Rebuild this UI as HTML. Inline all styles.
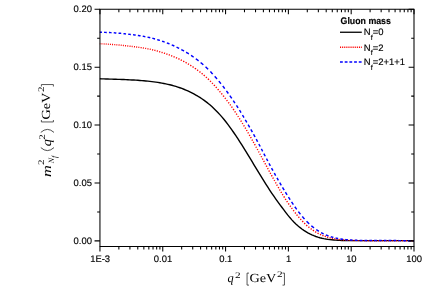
<!DOCTYPE html>
<html><head><meta charset="utf-8"><title>Gluon mass</title>
<style>
html,body{margin:0;padding:0;background:#fff;}
body{width:427px;height:288px;overflow:hidden;}
svg{display:block;will-change:transform;}
text{font-family:"Liberation Sans",sans-serif;fill:#000;}
.tl,.lg{stroke:#000;stroke-width:0.15px;}
.tl{font-size:9.45px;}
text{text-rendering:geometricPrecision;}
.ser{font-family:"Liberation Serif",serif;}
</style></head><body>
<svg width="427" height="288" viewBox="0 0 427 288">
<rect x="0" y="0" width="427" height="288" fill="#fff"/>

<g fill="none" stroke-linejoin="round">
<path d="M99.85,78.77 L101.85,78.84 L103.85,78.90 L105.85,78.97 L107.85,79.03 L109.85,79.09 L111.85,79.15 L113.85,79.21 L115.85,79.28 L117.85,79.34 L119.85,79.41 L121.85,79.49 L123.85,79.56 L125.85,79.65 L127.85,79.73 L129.85,79.83 L131.85,79.93 L133.85,80.04 L135.85,80.16 L137.85,80.29 L139.85,80.43 L141.85,80.59 L143.85,80.76 L145.85,80.94 L147.85,81.14 L149.85,81.35 L151.85,81.59 L153.85,81.84 L155.85,82.12 L157.85,82.42 L159.85,82.74 L161.85,83.09 L163.85,83.47 L165.85,83.87 L167.85,84.31 L169.85,84.79 L171.85,85.29 L173.85,85.84 L175.85,86.43 L177.85,87.06 L179.85,87.74 L181.85,88.46 L183.85,89.23 L185.85,90.06 L187.85,90.94 L189.85,91.89 L191.85,92.89 L193.85,93.96 L195.85,95.07 L197.85,96.23 L199.85,97.46 L201.85,98.76 L203.85,100.15 L205.85,101.61 L207.85,103.17 L209.85,104.81 L211.85,106.58 L213.85,108.45 L215.85,110.41 L217.85,112.47 L219.85,114.62 L221.85,116.87 L223.85,119.29 L225.85,121.80 L227.85,124.40 L229.85,127.10 L231.85,129.89 L233.85,132.76 L235.85,135.71 L237.85,138.70 L239.85,141.76 L241.85,144.89 L243.85,148.08 L245.85,151.32 L247.85,154.60 L249.85,157.92 L251.85,161.21 L253.85,164.52 L255.85,167.83 L257.85,171.15 L259.85,174.45 L261.85,177.73 L263.85,180.95 L265.85,184.12 L267.85,187.24 L269.85,190.31 L271.85,193.29 L273.85,196.20 L275.85,199.05 L277.85,201.84 L279.85,204.58 L281.85,207.25 L283.85,209.91 L285.85,212.58 L287.85,215.14 L289.85,217.58 L291.85,219.86 L293.85,221.99 L295.85,223.96 L297.85,225.77 L299.85,227.42 L301.85,228.95 L303.85,230.34 L305.85,231.59 L307.85,232.79 L309.85,233.88 L311.85,234.86 L313.85,235.72 L315.85,236.49 L317.85,237.17 L319.85,237.78 L321.85,238.25 L323.85,238.67 L325.85,239.02 L327.85,239.32 L329.85,239.58 L331.85,239.79 L333.85,239.97 L335.85,240.13 L337.85,240.26 L339.85,240.37 L341.85,240.45 L343.85,240.52 L345.85,240.57 L347.85,240.61 L349.85,240.64 L351.85,240.65 L353.85,240.65 L355.85,240.65 L357.85,240.65 L359.85,240.65 L361.85,240.65 L363.85,240.65 L365.85,240.65 L367.85,240.65 L369.85,240.65 L371.85,240.65 L373.85,240.65 L375.85,240.65 L377.85,240.65 L379.85,240.65 L381.85,240.65 L383.85,240.65 L385.85,240.65 L387.85,240.65 L389.85,240.65 L391.85,240.65 L393.85,240.65 L395.85,240.65 L397.85,240.65 L399.85,240.65 L401.85,240.65 L403.85,240.65 L405.85,240.65 L407.85,240.66 L409.85,240.75 L411.85,240.80 L414.00,240.80" stroke="#000" stroke-width="1.4"/>
<path d="M99.85,43.72 100.35,43.74 M101.55,43.80 102.05,43.83 102.45,43.85 M103.65,43.91 104.15,43.94 104.55,43.96 M105.75,44.03 106.25,44.06 106.65,44.08 M107.85,44.15 108.35,44.19 108.75,44.21 M109.95,44.29 110.45,44.33 110.95,44.36 M112.05,44.44 112.55,44.48 113.05,44.52 M114.25,44.61 114.75,44.65 115.25,44.69 M116.35,44.78 116.85,44.83 117.35,44.87 M118.55,44.98 119.05,45.02 119.55,45.07 M120.75,45.19 121.25,45.24 121.65,45.28 M122.85,45.40 123.35,45.46 123.85,45.51 M125.05,45.64 125.55,45.70 126.05,45.76 M127.25,45.90 127.75,45.96 128.25,46.02 M129.55,46.19 130.05,46.25 130.55,46.31 M131.65,46.42 132.15,46.48 132.65,46.54 M133.95,46.69 134.45,46.75 134.95,46.81 M136.15,46.96 136.65,47.03 137.15,47.10 M138.35,47.26 138.85,47.33 139.35,47.40 M140.55,47.58 141.05,47.66 141.55,47.73 141.65,47.75 M142.85,47.94 143.35,48.02 143.85,48.11 M145.15,48.33 145.65,48.42 146.15,48.51 M147.45,48.75 147.95,48.84 148.45,48.94 M149.75,49.19 150.25,49.30 150.75,49.41 M152.05,49.72 152.55,49.84 153.05,49.96 153.15,49.99 M154.35,50.29 154.85,50.41 155.35,50.54 155.45,50.57 M156.75,50.92 157.25,51.05 157.75,51.19 157.85,51.22 M159.15,51.59 159.65,51.73 160.15,51.88 160.25,51.91 M161.55,52.30 162.05,52.46 162.55,52.61 162.65,52.64 M163.95,53.06 164.45,53.23 164.95,53.39 165.05,53.43 M166.35,53.87 166.85,54.05 167.35,54.22 167.45,54.26 M168.75,54.73 169.25,54.92 169.75,55.11 169.85,55.15 M171.15,55.65 171.65,55.85 172.15,56.05 172.25,56.09 M173.55,56.62 174.05,56.83 174.55,57.04 174.65,57.09 M175.95,57.65 176.45,57.87 176.95,58.10 177.05,58.15 M178.35,58.75 178.85,58.98 179.35,59.22 179.45,59.27 M180.75,59.91 181.25,60.16 181.75,60.41 181.85,60.46 M183.15,61.14 183.65,61.40 184.15,61.67 184.25,61.73 M185.55,62.44 186.05,62.72 186.55,63.01 186.65,63.06 M187.95,63.82 188.45,64.12 188.95,64.42 M190.25,65.21 190.75,65.53 191.25,65.85 191.35,65.91 M192.55,66.69 193.05,67.02 193.55,67.35 193.65,67.42 M194.85,68.24 195.35,68.59 195.85,68.94 195.95,69.01 M197.15,69.87 197.65,70.24 198.15,70.61 M199.45,71.59 199.95,71.98 200.45,72.37 M201.65,73.32 202.15,73.72 202.65,74.13 M203.75,75.05 204.25,75.47 204.75,75.90 M205.95,76.97 206.45,77.42 206.85,77.79 M207.95,78.83 208.45,79.31 208.95,79.79 M210.05,80.87 210.55,81.37 210.95,81.77 M212.05,82.90 212.55,83.42 212.85,83.73 M213.95,84.90 214.45,85.44 214.85,85.88 M215.85,86.99 216.35,87.55 216.65,87.89 M217.75,89.15 218.25,89.73 218.55,90.09 M219.55,91.27 220.05,91.87 220.35,92.22 M221.35,93.41 221.85,94.01 222.15,94.37 M223.15,95.60 223.65,96.22 223.95,96.59 M224.95,97.85 225.45,98.49 225.65,98.75 M226.65,100.05 227.15,100.71 227.35,100.97 M228.35,102.31 228.85,102.98 229.05,103.25 M229.95,104.49 230.45,105.18 230.65,105.46 M231.55,106.72 232.05,107.43 232.25,107.72 M233.15,109.01 233.65,109.74 233.85,110.03 M234.75,111.35 235.25,112.09 235.45,112.39 M236.25,113.59 236.75,114.35 236.95,114.66 M237.85,116.04 238.35,116.81 238.45,116.96 M239.35,118.37 239.85,119.16 239.95,119.32 M240.75,120.59 241.25,121.39 241.45,121.71 M242.25,123.01 242.75,123.82 242.85,123.98 M243.65,125.30 244.15,126.13 244.25,126.29 M245.05,127.63 245.55,128.47 245.65,128.63 M246.45,129.99 246.95,130.84 247.05,131.01 M247.85,132.38 248.35,133.24 248.45,133.41 M249.25,134.80 249.75,135.67 249.85,135.84 M250.55,137.07 251.05,137.95 251.15,138.13 M251.95,139.54 252.45,140.43 252.55,140.61 M253.25,141.86 253.75,142.76 253.85,142.93 M254.55,144.19 255.05,145.10 255.15,145.28 M255.95,146.73 256.45,147.64 M257.25,149.10 257.75,150.01 M258.55,151.48 259.05,152.39 M259.85,153.86 260.35,154.78 M261.15,156.25 261.65,157.18 M262.35,158.47 262.85,159.39 262.95,159.58 M263.65,160.87 264.15,161.79 264.25,161.98 M264.95,163.27 265.45,164.20 265.55,164.38 M266.25,165.67 266.75,166.60 266.85,166.78 M267.55,168.07 268.05,168.99 268.15,169.18 M268.85,170.46 269.35,171.38 269.45,171.56 M270.15,172.84 270.65,173.75 270.75,173.94 M271.45,175.21 271.95,176.11 272.05,176.29 M272.75,177.56 273.25,178.45 273.35,178.63 M274.15,180.06 274.65,180.96 M275.45,182.37 275.95,183.26 276.05,183.43 M276.75,184.66 277.25,185.53 277.35,185.70 M278.15,187.09 278.65,187.95 278.75,188.12 M279.55,189.49 280.05,190.34 280.15,190.50 M280.95,191.85 281.45,192.68 281.55,192.85 M282.35,194.17 282.85,194.99 282.95,195.15 M283.75,196.45 284.25,197.24 284.45,197.56 M285.25,198.82 285.75,199.59 285.95,199.89 M286.75,201.10 287.25,201.85 287.45,202.14 M288.35,203.46 288.85,204.19 289.05,204.48 M289.95,205.76 290.45,206.46 290.65,206.74 M291.55,207.98 292.05,208.66 292.25,208.93 M293.25,210.26 293.75,210.92 293.95,211.18 M294.95,212.47 295.45,213.11 295.75,213.49 M296.65,214.62 297.15,215.24 297.45,215.60 M298.45,216.80 298.95,217.39 299.25,217.74 M300.35,218.99 300.85,219.54 301.15,219.87 M302.25,221.04 302.75,221.56 303.15,221.97 M304.25,223.07 304.75,223.56 305.15,223.94 M306.25,224.96 306.75,225.41 307.25,225.85 M308.45,226.87 308.95,227.28 309.35,227.60 M310.65,228.61 311.15,228.99 311.65,229.36 M312.85,230.20 313.35,230.54 313.85,230.87 313.95,230.93 M315.15,231.69 315.65,231.99 316.15,232.29 316.25,232.35 M317.55,233.07 318.05,233.34 318.55,233.60 318.65,233.65 M319.95,234.29 320.45,234.52 320.95,234.75 321.05,234.80 M322.35,235.35 322.85,235.56 323.35,235.75 323.45,235.79 M324.75,236.27 325.25,236.45 325.75,236.62 325.85,236.65 M327.15,237.07 327.65,237.22 328.15,237.36 328.25,237.39 M329.55,237.74 330.05,237.87 330.55,237.99 330.65,238.01 M331.85,238.29 332.35,238.39 332.85,238.50 332.95,238.52 M334.15,238.75 334.65,238.84 335.15,238.93 335.25,238.94 M336.45,239.14 336.95,239.21 337.45,239.29 M338.75,239.46 339.25,239.52 339.75,239.58 M340.95,239.71 341.45,239.77 341.85,239.81 M343.05,239.92 343.55,239.96 344.05,240.00 M345.25,240.09 345.75,240.12 346.15,240.15 M347.35,240.22 347.85,240.25 348.25,240.27 M349.45,240.33 349.95,240.36 350.35,240.38 M351.55,240.42 352.05,240.44 352.45,240.46 M353.55,240.49 354.05,240.51 354.55,240.52 M355.65,240.55 356.15,240.56 356.55,240.57 M357.65,240.59 358.15,240.60 358.65,240.61 M359.75,240.63 360.25,240.63 360.65,240.64 M361.75,240.65 362.25,240.66 362.65,240.66 M363.75,240.67 364.25,240.68 364.65,240.68 M365.75,240.69 366.25,240.69 366.65,240.69 M367.75,240.70 368.25,240.70 368.65,240.70 M369.75,240.70 370.25,240.71 370.75,240.71 M371.85,240.71 372.35,240.71 372.75,240.71 M373.85,240.71 374.35,240.71 374.75,240.71 M375.85,240.71 376.35,240.71 376.75,240.71 M377.85,240.71 378.35,240.71 378.75,240.71 M379.85,240.71 380.35,240.71 380.75,240.71 M381.85,240.71 382.35,240.71 382.75,240.71 M383.85,240.71 384.35,240.71 384.75,240.71 M385.85,240.71 386.35,240.71 386.75,240.71 M387.85,240.71 388.35,240.71 388.75,240.71 M389.85,240.71 390.35,240.71 390.75,240.71 M391.85,240.71 392.35,240.71 392.75,240.71 M393.85,240.71 394.35,240.71 394.75,240.71 M395.85,240.71 396.35,240.71 396.75,240.71 M397.85,240.71 398.35,240.71 398.75,240.71 M399.85,240.71 400.35,240.71 400.75,240.71 M401.85,240.71 402.35,240.71 402.75,240.71 M403.85,240.71 404.35,240.71 404.75,240.71 M405.85,240.71 406.35,240.71 406.75,240.71 M407.85,240.71 408.35,240.71 408.75,240.71 M409.85,240.71 410.35,240.71 410.75,240.71 M411.85,240.71 412.35,240.71 412.75,240.71 M413.85,240.71 413.95,240.71" stroke="#ff0000" stroke-width="1.4"/>
<path d="M99.85,32.24 100.35,32.25 100.85,32.26 101.35,32.27 101.85,32.28 101.95,32.28 M104.05,32.34 104.55,32.35 105.05,32.37 105.55,32.39 106.05,32.41 106.55,32.43 106.75,32.43 M108.95,32.53 109.45,32.56 109.95,32.58 110.45,32.61 110.95,32.63 111.45,32.66 111.55,32.67 M113.75,32.80 114.25,32.84 114.75,32.87 115.25,32.91 115.75,32.94 116.25,32.98 116.35,32.99 M118.55,33.17 119.05,33.21 119.55,33.25 120.05,33.30 120.55,33.34 121.05,33.39 121.25,33.41 M123.45,33.63 123.95,33.68 124.45,33.74 124.95,33.79 125.45,33.85 125.95,33.91 126.05,33.92 M128.25,34.19 128.75,34.26 129.25,34.32 129.75,34.39 130.25,34.45 130.75,34.50 130.85,34.51 M133.05,34.77 133.55,34.84 134.05,34.90 134.55,34.96 135.05,35.03 135.55,35.10 135.75,35.13 M137.85,35.43 138.35,35.50 138.85,35.58 139.35,35.66 139.85,35.74 140.35,35.82 140.55,35.85 M142.75,36.23 143.25,36.32 143.75,36.41 144.25,36.50 144.75,36.59 145.25,36.69 145.35,36.71 M147.55,37.15 148.05,37.25 148.55,37.36 149.05,37.47 149.55,37.58 150.05,37.69 150.25,37.74 M152.35,38.27 152.85,38.40 153.35,38.54 153.85,38.67 154.35,38.81 154.85,38.95 155.05,39.00 M157.25,39.64 157.75,39.79 158.25,39.94 158.75,40.09 159.25,40.25 159.75,40.41 159.85,40.44 M162.05,41.16 162.55,41.33 163.05,41.50 163.55,41.67 164.05,41.85 164.55,42.03 164.65,42.06 M166.85,42.88 167.35,43.07 167.85,43.27 168.35,43.46 168.85,43.66 169.35,43.86 169.55,43.94 M171.75,44.86 172.25,45.08 172.75,45.30 173.25,45.52 173.75,45.74 174.25,45.97 174.35,46.02 M176.55,47.05 177.05,47.29 177.55,47.54 178.05,47.79 178.55,48.04 179.05,48.29 179.15,48.34 M181.35,49.50 181.85,49.77 182.35,50.05 182.85,50.32 183.35,50.60 183.85,50.89 184.05,51.00 M186.15,52.24 186.65,52.54 187.15,52.85 187.65,53.16 188.15,53.47 188.65,53.79 188.85,53.92 M191.05,55.36 191.55,55.70 192.05,56.04 192.55,56.38 193.05,56.73 193.55,57.09 193.65,57.16 M195.85,58.76 196.35,59.13 196.85,59.51 197.35,59.90 197.85,60.28 198.35,60.67 198.55,60.83 M200.65,62.53 201.15,62.94 201.65,63.36 202.15,63.78 202.65,64.21 203.15,64.64 203.35,64.82 M205.55,66.80 206.05,67.27 206.55,67.75 207.05,68.23 207.55,68.72 208.05,69.22 208.15,69.32 M210.35,71.55 210.85,72.08 211.35,72.60 211.85,73.14 212.35,73.67 212.75,74.11 M214.75,76.33 215.25,76.90 215.75,77.47 216.25,78.05 216.75,78.64 217.05,78.99 M218.85,81.16 219.35,81.77 219.85,82.39 220.35,83.00 220.85,83.62 220.95,83.74 M222.75,86.01 223.25,86.65 223.75,87.30 224.25,87.95 224.75,88.61 M226.45,90.89 226.95,91.57 227.45,92.26 227.95,92.95 228.35,93.50 M229.85,95.62 230.35,96.33 230.85,97.05 231.35,97.77 231.75,98.35 M233.25,100.56 233.75,101.30 234.25,102.05 234.75,102.80 234.95,103.11 M236.45,105.40 236.95,106.18 237.45,106.95 237.95,107.74 238.05,107.90 M239.45,110.12 239.95,110.93 240.45,111.74 240.95,112.56 241.05,112.72 M242.45,115.04 242.95,115.88 243.45,116.73 243.95,117.57 M245.25,119.77 245.75,120.62 246.25,121.47 246.75,122.32 246.85,122.48 M248.15,124.70 248.65,125.57 249.15,126.44 249.65,127.31 M250.85,129.42 251.35,130.31 251.85,131.20 252.35,132.10 M253.55,134.26 254.05,135.17 254.55,136.08 255.05,136.99 M256.25,139.19 256.75,140.11 257.25,141.03 257.65,141.78 M258.85,144.04 259.35,145.00 259.85,145.95 260.15,146.52 M261.35,148.81 261.85,149.77 262.35,150.73 262.65,151.30 M263.85,153.59 264.35,154.55 264.85,155.50 265.25,156.27 M266.45,158.55 266.95,159.50 267.45,160.45 267.75,161.02 M268.95,163.30 269.45,164.24 269.95,165.17 270.35,165.92 M271.55,168.13 272.05,169.05 272.55,169.96 272.95,170.69 M274.25,173.05 274.75,173.95 275.25,174.84 275.65,175.55 M276.95,177.85 277.45,178.73 277.95,179.60 278.35,180.30 M279.75,182.71 280.25,183.56 280.75,184.41 281.25,185.26 M282.55,187.43 283.05,188.26 283.55,189.09 284.05,189.91 284.15,190.08 M285.45,192.21 285.95,193.03 286.45,193.84 286.95,194.66 287.05,194.82 M288.45,197.07 288.95,197.86 289.45,198.65 289.95,199.43 290.15,199.74 M291.55,201.90 292.05,202.65 292.55,203.40 293.05,204.15 293.35,204.59 M294.85,206.76 295.35,207.47 295.85,208.18 296.35,208.87 296.75,209.42 M298.35,211.57 298.85,212.23 299.35,212.88 299.85,213.51 300.35,214.14 300.45,214.27 M302.25,216.46 302.75,217.04 303.25,217.62 303.75,218.19 304.25,218.75 304.55,219.08 M306.55,221.21 307.05,221.72 307.55,222.22 308.05,222.71 308.55,223.20 309.05,223.67 309.25,223.86 M311.35,225.74 311.85,226.17 312.35,226.58 312.85,226.99 313.35,227.39 313.85,227.78 314.05,227.94 M316.25,229.55 316.75,229.90 317.25,230.23 317.75,230.56 318.25,230.88 318.75,231.20 318.85,231.26 M321.05,232.55 321.55,232.82 322.05,233.08 322.55,233.34 323.05,233.60 323.55,233.84 323.75,233.94 M325.85,234.89 326.35,235.10 326.85,235.30 327.35,235.50 327.85,235.69 328.35,235.88 328.55,235.95 M330.75,236.70 331.25,236.85 331.75,237.00 332.25,237.15 332.75,237.29 333.25,237.43 333.35,237.46 M335.55,238.00 336.05,238.11 336.55,238.22 337.05,238.33 337.55,238.43 338.05,238.53 338.15,238.54 M340.35,238.93 340.85,239.01 341.35,239.08 341.85,239.16 342.35,239.23 342.85,239.29 343.05,239.32 M345.25,239.58 345.75,239.63 346.25,239.68 346.75,239.73 347.25,239.78 347.75,239.82 347.85,239.83 M350.05,240.00 350.55,240.03 351.05,240.06 351.55,240.09 352.05,240.12 352.55,240.15 352.65,240.16 M354.85,240.26 355.35,240.28 355.85,240.30 356.35,240.32 356.85,240.33 357.35,240.35 357.55,240.36 M359.65,240.41 360.15,240.43 360.65,240.44 361.15,240.45 361.65,240.45 362.15,240.46 362.35,240.47 M364.55,240.50 365.05,240.50 365.55,240.51 366.05,240.51 366.55,240.52 367.05,240.52 367.15,240.52 M369.35,240.53 369.85,240.53 370.35,240.54 370.85,240.54 371.35,240.54 371.85,240.54 372.05,240.54 M374.15,240.54 374.65,240.54 375.15,240.54 375.65,240.54 376.15,240.54 376.65,240.54 376.85,240.54 M379.05,240.54 379.55,240.54 380.05,240.54 380.55,240.54 381.05,240.54 381.55,240.54 381.65,240.54 M383.85,240.54 384.35,240.54 384.85,240.54 385.35,240.54 385.85,240.54 386.35,240.54 386.45,240.54 M388.65,240.54 389.15,240.54 389.65,240.55 390.15,240.55 390.65,240.55 391.15,240.55 391.35,240.55 M393.55,240.56 394.05,240.56 394.55,240.57 395.05,240.57 395.55,240.57 396.05,240.57 396.15,240.58 M398.35,240.59 398.85,240.60 399.35,240.60 399.85,240.61 400.35,240.61 400.85,240.62 400.95,240.62 M403.15,240.64 403.65,240.65 404.15,240.66 404.65,240.66 405.15,240.67 405.65,240.68 405.85,240.68 M407.95,240.72 408.45,240.73 408.95,240.74 409.45,240.75 409.95,240.76 410.45,240.77 410.65,240.77 M412.85,240.80 413.35,240.80 413.85,240.80 413.95,240.80" stroke="#0000ff" stroke-width="1.45"/>
</g>
<g stroke="#000" stroke-width="1.05" fill="none" stroke-linecap="butt">
<path d="M99.95,8.775 V247.025 M414.0,8.775 V247.025 M99.95,9.3 H414.0 M99.95,246.5 H414.0"/>
<path d="M99.95,246.5 v5.0 M99.95,9.3 v5.0 M118.86,246.5 v3.0 M118.86,9.3 v3.0 M129.92,246.5 v3.0 M129.92,9.3 v3.0 M137.77,246.5 v3.0 M137.77,9.3 v3.0 M143.85,246.5 v3.0 M143.85,9.3 v3.0 M148.83,246.5 v3.0 M148.83,9.3 v3.0 M153.03,246.5 v3.0 M153.03,9.3 v3.0 M156.67,246.5 v3.0 M156.67,9.3 v3.0 M159.89,246.5 v3.0 M159.89,9.3 v3.0 M162.76,246.5 v5.0 M162.76,9.3 v5.0 M181.67,246.5 v3.0 M181.67,9.3 v3.0 M192.73,246.5 v3.0 M192.73,9.3 v3.0 M200.58,246.5 v3.0 M200.58,9.3 v3.0 M206.66,246.5 v3.0 M206.66,9.3 v3.0 M211.64,246.5 v3.0 M211.64,9.3 v3.0 M215.84,246.5 v3.0 M215.84,9.3 v3.0 M219.48,246.5 v3.0 M219.48,9.3 v3.0 M222.70,246.5 v3.0 M222.70,9.3 v3.0 M225.57,246.5 v5.0 M225.57,9.3 v5.0 M244.48,246.5 v3.0 M244.48,9.3 v3.0 M255.54,246.5 v3.0 M255.54,9.3 v3.0 M263.39,246.5 v3.0 M263.39,9.3 v3.0 M269.47,246.5 v3.0 M269.47,9.3 v3.0 M274.45,246.5 v3.0 M274.45,9.3 v3.0 M278.65,246.5 v3.0 M278.65,9.3 v3.0 M282.29,246.5 v3.0 M282.29,9.3 v3.0 M285.51,246.5 v3.0 M285.51,9.3 v3.0 M288.38,246.5 v5.0 M288.38,9.3 v5.0 M307.29,246.5 v3.0 M307.29,9.3 v3.0 M318.35,246.5 v3.0 M318.35,9.3 v3.0 M326.20,246.5 v3.0 M326.20,9.3 v3.0 M332.28,246.5 v3.0 M332.28,9.3 v3.0 M337.26,246.5 v3.0 M337.26,9.3 v3.0 M341.46,246.5 v3.0 M341.46,9.3 v3.0 M345.10,246.5 v3.0 M345.10,9.3 v3.0 M348.32,246.5 v3.0 M348.32,9.3 v3.0 M351.19,246.5 v5.0 M351.19,9.3 v5.0 M370.10,246.5 v3.0 M370.10,9.3 v3.0 M381.16,246.5 v3.0 M381.16,9.3 v3.0 M389.01,246.5 v3.0 M389.01,9.3 v3.0 M395.09,246.5 v3.0 M395.09,9.3 v3.0 M400.07,246.5 v3.0 M400.07,9.3 v3.0 M404.27,246.5 v3.0 M404.27,9.3 v3.0 M407.91,246.5 v3.0 M407.91,9.3 v3.0 M411.13,246.5 v3.0 M411.13,9.3 v3.0 M414.00,246.5 v5.0 M414.00,9.3 v5.0 M99.95,240.85 h-5.4 M414.0,240.85 h-5.4 M99.95,211.91 h-2.8 M414.0,211.91 h-2.8 M99.95,182.96 h-5.4 M414.0,182.96 h-5.4 M99.95,154.02 h-2.8 M414.0,154.02 h-2.8 M99.95,125.08 h-5.4 M414.0,125.08 h-5.4 M99.95,96.13 h-2.8 M414.0,96.13 h-2.8 M99.95,67.19 h-5.4 M414.0,67.19 h-5.4 M99.95,38.24 h-2.8 M414.0,38.24 h-2.8 M99.95,9.30 h-5.4 M414.0,9.30 h-5.4"/>
</g>
<g class="tl">
<text x="91.9" y="243.80" text-anchor="end">0.00</text>
<text x="91.9" y="185.91" text-anchor="end">0.05</text>
<text x="91.9" y="128.03" text-anchor="end">0.10</text>
<text x="91.9" y="70.14" text-anchor="end">0.15</text>
<text x="91.9" y="12.25" text-anchor="end">0.20</text>
<text x="100.15" y="262.4" text-anchor="middle">1E-3</text>
<text x="162.96" y="262.4" text-anchor="middle">0.01</text>
<text x="225.77" y="262.4" text-anchor="middle">0.1</text>
<text x="288.58" y="262.4" text-anchor="middle">1</text>
<text x="351.39" y="262.4" text-anchor="middle">10</text>
<text x="414.20" y="262.4" text-anchor="middle">100</text>
</g>
<text x="340.6" y="23.7" class="lg" font-size="9.5px" font-weight="bold" textLength="50.3" lengthAdjust="spacingAndGlyphs">Gluon mass</text>
<path d="M340.0,32.25 H361.8" stroke="#000" stroke-width="1.3" fill="none"/>
<text x="363.7" y="35.45" class="lg" font-size="9.45px">N<tspan font-size="7.2px" dy="4.5" dx="0.1">f</tspan><tspan dy="-4.5" dx="0.2">=0</tspan></text>
<path d="M340.0,47.3 H361.8" stroke="#ff0000" stroke-width="1.4" fill="none" stroke-dasharray="1.0 0.9"/>
<text x="363.7" y="50.50" class="lg" font-size="9.45px">N<tspan font-size="7.2px" dy="4.5" dx="0.1">f</tspan><tspan dy="-4.5" dx="0.2">=2</tspan></text>
<path d="M340.0,61.9 H361.8" stroke="#0000ff" stroke-width="1.5" fill="none" stroke-dasharray="2.8 1.9"/>
<text x="363.7" y="65.10" class="lg" font-size="9.45px">N<tspan font-size="7.2px" dy="4.5" dx="0.1">f</tspan><tspan dy="-4.5" dx="0.2">=2+1+1</tspan></text>
<g fill="#303030">
<text class="ser" x="227.5" y="282.1" font-size="12.4px" font-style="italic">q</text>
<text class="ser" x="235.0" y="278.1" font-size="8.5px" textLength="5.6" lengthAdjust="spacingAndGlyphs">2</text>
<path d="M249.00,273.10 H247.05 V285.10 H249.00" stroke="#222" stroke-width="0.75" fill="none"/>
<text class="ser" x="249.40" y="282.10" font-size="12.4px" textLength="27.0" lengthAdjust="spacingAndGlyphs">GeV</text>
<text class="ser" x="276.90" y="276.80" font-size="8.5px" textLength="5.6" lengthAdjust="spacingAndGlyphs">2</text>
<path d="M282.50,273.10 H284.45 V285.10 H282.50" stroke="#222" stroke-width="0.75" fill="none"/>
</g>
<g transform="translate(50.4,176.2) rotate(-90)" fill="#303030">
<text class="ser" x="-0.9" y="0.5" font-size="13px" fill="#3a3a3a" font-style="italic" textLength="11.8" lengthAdjust="spacingAndGlyphs">m</text>
<text class="ser" x="11.2" y="-6.4" font-size="8.5px" textLength="5.6" lengthAdjust="spacingAndGlyphs">2</text>
<text class="ser" x="12.9" y="4.0" font-size="8px" font-style="italic">N</text>
<text class="ser" x="18.2" y="6.2" font-size="7.5px" font-style="italic">f</text>
<path d="M28.6,-9.6 Q22.6,-3 28.6,3.6" stroke="#222" stroke-width="0.8" fill="none"/>
<text class="ser" x="29.9" y="0.6" font-size="13px" font-style="italic" textLength="7.2" lengthAdjust="spacingAndGlyphs">q</text>
<text class="ser" x="36.4" y="-5.4" font-size="8.5px" textLength="5.6" lengthAdjust="spacingAndGlyphs">2</text>
<path d="M43.8,-9.6 Q49.8,-3 43.8,3.6" stroke="#222" stroke-width="0.8" fill="none"/>
<path d="M56.20,-9.00 H54.25 V3.00 H56.20" stroke="#222" stroke-width="0.75" fill="none"/>
<text class="ser" x="56.60" y="0.00" font-size="12.4px" textLength="27.0" lengthAdjust="spacingAndGlyphs">GeV</text>
<text class="ser" x="84.10" y="-6.00" font-size="8.5px" textLength="5.6" lengthAdjust="spacingAndGlyphs">2</text>
<path d="M89.70,-9.00 H91.65 V3.00 H89.70" stroke="#222" stroke-width="0.75" fill="none"/>
</g>
</svg>
</body></html>
